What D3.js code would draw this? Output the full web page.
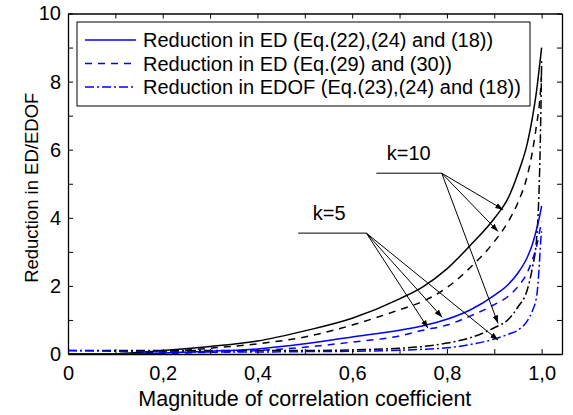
<!DOCTYPE html>
<html>
<head>
<meta charset="utf-8">
<script src="https://cdn.jsdelivr.net/npm/d3@7"></script>
<style>
  body { margin: 0; background: #fff; }
  svg text { font-family: "Liberation Sans", Arial, sans-serif; fill: #000; }
</style>
</head>
<body>
<svg id="chart" width="573" height="415"></svg>
<script>
/************************* Data *************************/
// magnitude of correlation coefficient
const rho = [0, 0.1, 0.2, 0.3, 0.4, 0.5, 0.6, 0.7, 0.75, 0.8, 0.85, 0.9, 0.93, 0.95, 0.97, 0.98, 0.99, 0.995, 0.998, 1.0];

// k = 10 (black)
const edK10     = [0, 0.01, 0.1, 0.22, 0.38, 0.68, 1.05, 1.62, 1.98, 2.5, 3.2, 3.98, 4.6, 5.3, 6.2, 6.9, 7.8, 8.4, 8.75, 9.0];
const edAltK10  = [0, 0.01, 0.07, 0.17, 0.3, 0.5, 0.85, 1.3, 1.55, 1.95, 2.55, 3.3, 3.9, 4.45, 5.25, 5.9, 6.8, 7.3, 7.8, 8.3];
const edofK10   = [0.1, 0.1, 0.1, 0.1, 0.1, 0.1, 0.12, 0.17, 0.22, 0.32, 0.48, 0.77, 1.02, 1.38, 1.9, 2.5, 3.5, 5.0, 6.8, 8.6];

// k = 5 (blue)
const edK5      = [0, 0.0, 0.03, 0.08, 0.15, 0.3, 0.5, 0.7, 0.83, 1.02, 1.3, 1.72, 2.05, 2.38, 2.85, 3.2, 3.7, 4.0, 4.2, 4.35];
const edAltK5   = [0, 0.0, 0.02, 0.05, 0.1, 0.2, 0.35, 0.53, 0.7, 0.85, 1.12, 1.45, 1.7, 1.98, 2.4, 2.75, 3.2, 3.55, 3.75, 3.9];
const edofK5    = [0.1, 0.08, 0.07, 0.06, 0.06, 0.07, 0.08, 0.11, 0.14, 0.18, 0.28, 0.44, 0.58, 0.7, 0.98, 1.25, 1.75, 2.6, 3.3, 3.6];

const xTicks = [0, 0.1, 0.2, 0.3, 0.4, 0.5, 0.6, 0.7, 0.8, 0.9, 1.0];
const yTicks = [0, 1, 2, 3, 4, 5, 6, 7, 8, 9, 10];

const legendLabels = [
  "Reduction in ED (Eq.(22),(24) and (18))",
  "Reduction in ED (Eq.(29) and (30))",
  "Reduction in EDOF (Eq.(23),(24) and (18))"
];

// annotations in data units: label, label position, line start, anchor, arrow tips
const notes = [
  { text: "k=10", at: [0.673, 5.7],  from: 0.651, anchor: [0.789, 5.31],
    tips: [[0.919, 4.24], [0.908, 3.6], [0.908, 0.9]] },
  { text: "k=5",  at: [0.517, 3.94], from: 0.486, anchor: [0.630, 3.55],
    tips: [[0.760, 0.76], [0.790, 1.08], [0.908, 0.41]] }
];

/************************* Styles *************************/
const BLACK = "#000";
const BLUE = "#0000ff";
const DASH = { solid: null, dashed: "7,6", dashdot: "9,3,2,3" };

const series = [
  { values: edK10,    color: BLACK, dash: DASH.solid },
  { values: edAltK10, color: BLACK, dash: DASH.dashed },
  { values: edofK10,  color: BLACK, dash: DASH.dashdot },
  { values: edK5,     color: BLUE,  dash: DASH.solid },
  { values: edAltK5,  color: BLUE,  dash: DASH.dashed },
  { values: edofK5,   color: BLUE,  dash: DASH.dashdot }
];

/************************* Layout *************************/
const svg = d3.select("#chart");
const m = { left: 68, right: 11, top: 13.5, bottom: 61 };
const W = 573, H = 415;

const x = d3.scaleLinear().domain([0, 1.043]).range([m.left, W - m.right]);
const y = d3.scaleLinear().domain([0, 10]).range([H - m.bottom, m.top]);

const fmt = d => d === 0 ? "0" : d3.format(".1f")(d).replace(".", ",");

// clip curves to the plot area
svg.append("clipPath").attr("id", "plot")
  .append("rect")
  .attr("x", x(0)).attr("y", y(10))
  .attr("width", x(1.043) - x(0)).attr("height", y(0) - y(10));

// Curves
const line = d3.line()
  .x((d, i) => x(rho[i]))
  .y(d => y(d))
  .curve(d3.curveMonotoneX);

svg.append("g").attr("clip-path", "url(#plot)")
  .selectAll("path")
  .data(series)
  .join("path")
    .attr("d", s => line(s.values))
    .attr("fill", "none")
    .attr("stroke", s => s.color)
    .attr("stroke-width", 1.5)
    .attr("stroke-dasharray", s => s.dash);

// Axes (ticks pointing inward, mirrored on top/right)
const tickFont = "20px";
svg.append("g")
  .attr("transform", `translate(0,${y(0)})`)
  .call(d3.axisBottom(x).tickValues(xTicks).tickSizeInner(-5).tickSizeOuter(0)
    .tickFormat(d => Math.round(d * 10) % 2 === 0 ? fmt(d) : ""))
  .call(g => g.selectAll("text").attr("dy", "1.15em").style("font-size", tickFont));

svg.append("g")
  .attr("transform", `translate(0,${y(10)})`)
  .call(d3.axisTop(x).tickValues(xTicks).tickSizeInner(-5).tickSizeOuter(0).tickFormat(""));

svg.append("g")
  .attr("transform", `translate(${x(0)},0)`)
  .call(d3.axisLeft(y).tickValues(yTicks).tickSizeInner(-5).tickSizeOuter(0)
    .tickFormat(d => d % 2 === 0 ? d : ""))
  .call(g => g.selectAll("text").attr("x", -7).style("font-size", tickFont));

svg.append("g")
  .attr("transform", `translate(${x(1.043)},0)`)
  .call(d3.axisRight(y).tickValues(yTicks).tickSizeInner(-5).tickSizeOuter(0).tickFormat(""));

svg.selectAll(".domain").attr("stroke", BLACK).attr("stroke-width", 1.3);
svg.selectAll(".tick line").attr("stroke", BLACK);
svg.selectAll(".tick text").attr("fill", BLACK).style("font-family", "Liberation Sans, Arial, sans-serif");

// Axis titles
svg.append("text")
  .attr("x", (x(0) + x(1)) / 2).attr("y", 406)
  .attr("text-anchor", "middle")
  .style("font-size", "21.5px")
  .text("Magnitude of correlation coefficient");

svg.append("text")
  .attr("transform", `translate(38,${(y(0) + y(10)) / 2 + 4}) rotate(-90)`)
  .attr("text-anchor", "middle")
  .style("font-size", "18.5px")
  .text("Reduction in ED/EDOF");

// Legend
const legend = svg.append("g").attr("transform", "translate(77,22)");
legend.append("rect")
  .attr("width", 453).attr("height", 84)
  .attr("fill", "#fff").attr("stroke", BLACK).attr("stroke-width", 1);

const rows = legend.selectAll("g.row")
  .data(legendLabels)
  .join("g")
    .attr("class", "row")
    .attr("transform", (d, i) => `translate(0,${18 + i * 23.5})`);

rows.append("line")
  .attr("x1", 8).attr("x2", 59)
  .attr("stroke", BLUE).attr("stroke-width", 1.5)
  .attr("stroke-dasharray", (d, i) => [DASH.solid, DASH.dashed, DASH.dashdot][i]);

rows.append("text")
  .attr("x", 66).attr("dy", "0.35em")
  .style("font-size", "20px")
  .text(d => d);

// Annotations
const defs = svg.append("defs");
defs.append("marker")
  .attr("id", "arrow")
  .attr("viewBox", "0 0 10 10")
  .attr("refX", 10).attr("refY", 5)
  .attr("markerWidth", 8).attr("markerHeight", 8)
  .attr("markerUnits", "userSpaceOnUse")
  .attr("orient", "auto")
  .append("path").attr("d", "M0,1.5L10,5L0,8.5Z").attr("fill", BLACK);

const note = svg.selectAll("g.note")
  .data(notes)
  .join("g").attr("class", "note");

note.append("text")
  .attr("x", d => x(d.at[0])).attr("y", d => y(d.at[1]))
  .style("font-size", "20px")
  .text(d => d.text);

note.append("line")
  .attr("x1", d => x(d.from)).attr("x2", d => x(d.anchor[0]))
  .attr("y1", d => y(d.anchor[1])).attr("y2", d => y(d.anchor[1]))
  .attr("stroke", BLACK).attr("stroke-width", 1);

note.selectAll("line.arrow")
  .data(d => d.tips.map(t => ({ a: d.anchor, t })))
  .join("line")
    .attr("class", "arrow")
    .attr("x1", d => x(d.a[0])).attr("y1", d => y(d.a[1]))
    .attr("x2", d => x(d.t[0])).attr("y2", d => y(d.t[1]))
    .attr("stroke", BLACK).attr("stroke-width", 1)
    .attr("marker-end", "url(#arrow)");
</script>
</body>
</html>
